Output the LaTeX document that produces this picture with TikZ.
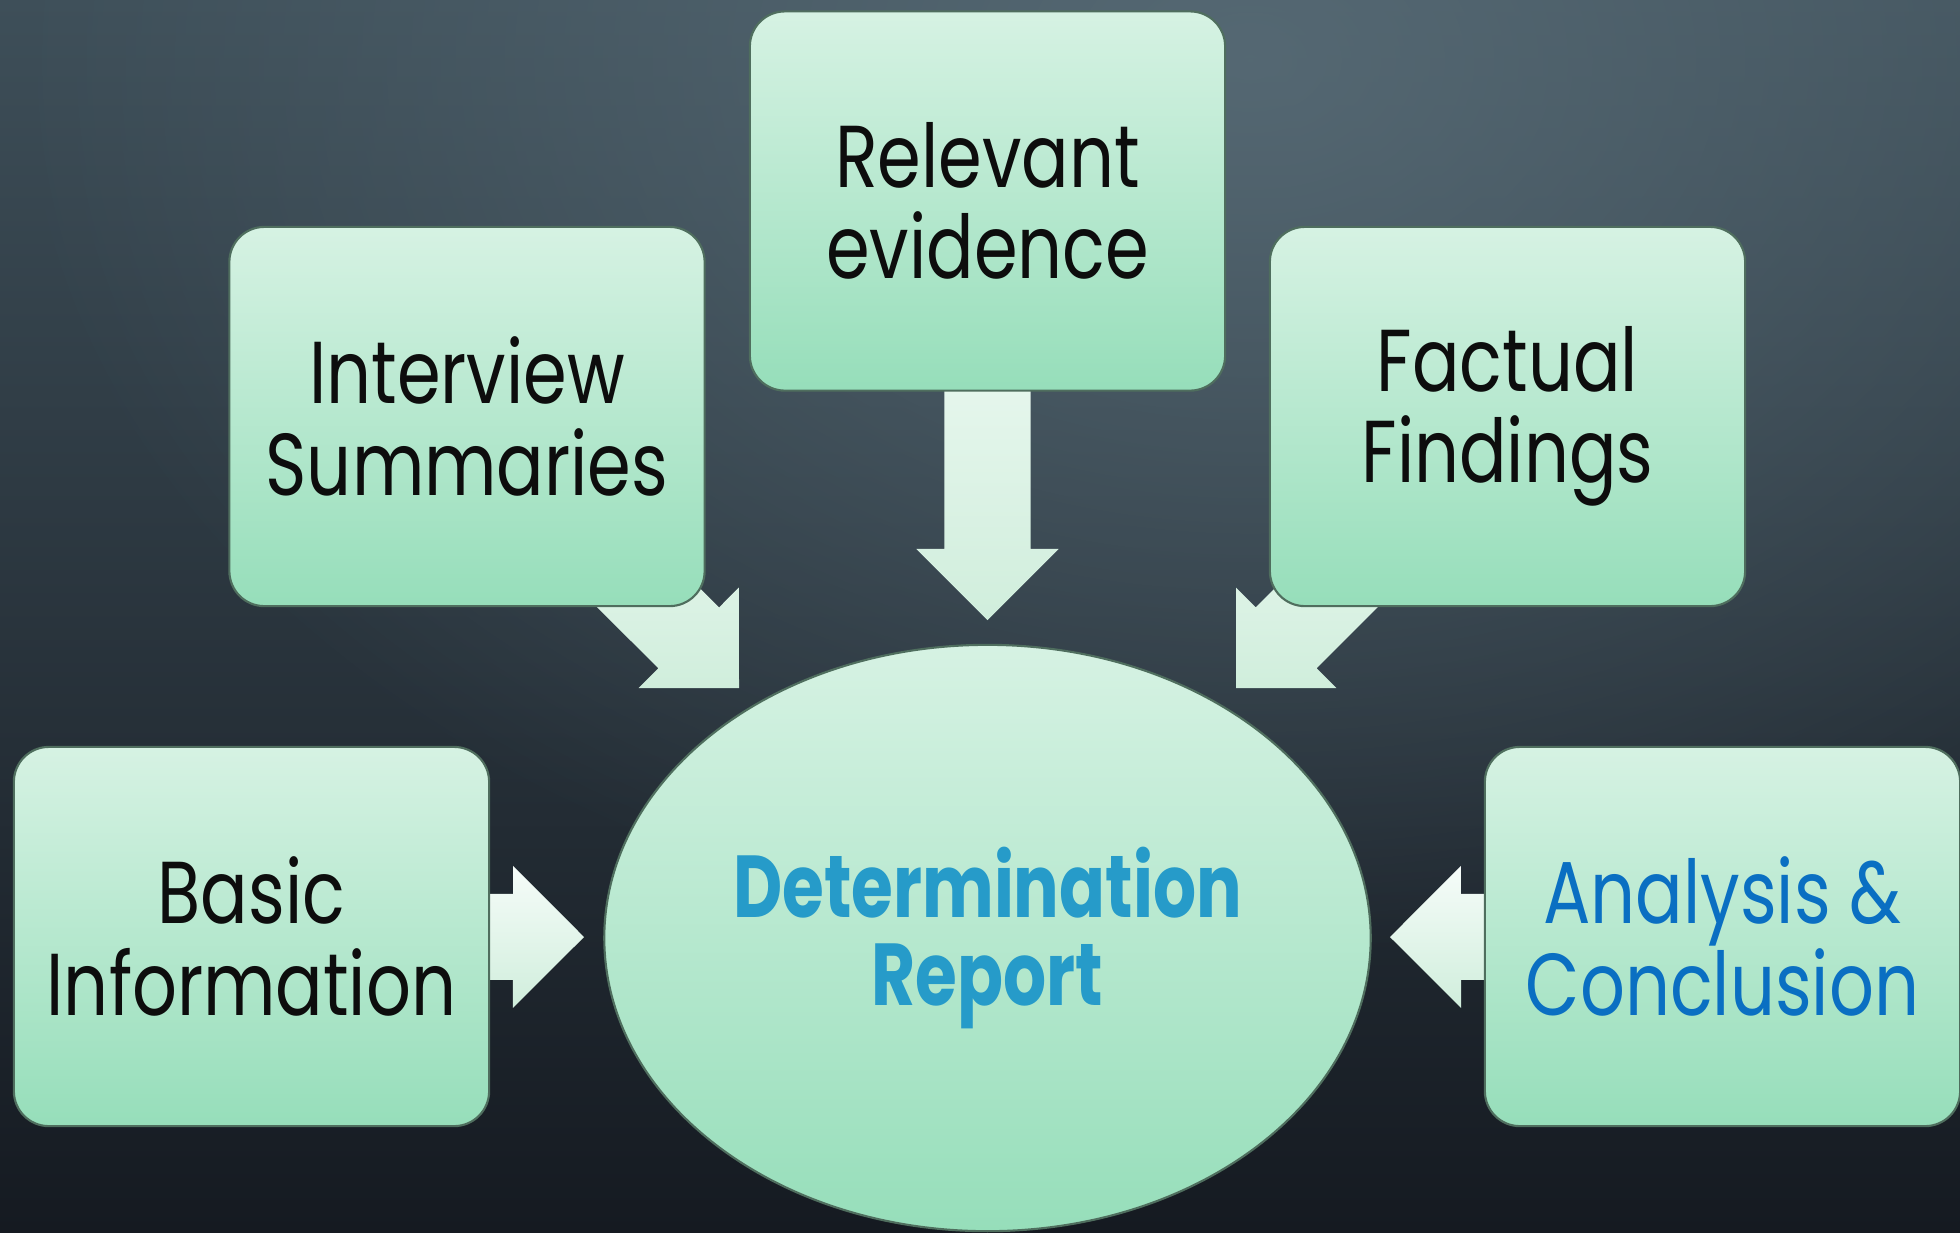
\documentclass[tikz,border=0pt]{standalone}
\usepackage{fontspec}
\setmainfont{Poppins}[FakeStretch=0.80]
\newfontfamily\reportfont{Poppins}[FakeStretch=0.77]
\usetikzlibrary{shapes.geometric, calc, fadings}
\definecolor{bgtop}{HTML}{3E4F59}
\definecolor{bgmid}{HTML}{2C3740}
\definecolor{bgbot}{HTML}{151A21}
\definecolor{bgglow}{HTML}{5B6F7A}
\definecolor{boxtop}{HTML}{D6F2E3}
\definecolor{boxbot}{HTML}{96DEBA}
\definecolor{boxline}{HTML}{4F6E5E}
\definecolor{arrtop}{HTML}{F6FCF9}
\definecolor{arrbot}{HTML}{D0EEDC}
\definecolor{reportblue}{HTML}{269BC9}
\definecolor{textblue}{HTML}{0A6FC2}
\tikzfading[name=glowfade, inner color=transparent!0, outer color=transparent!100]
\pgfdeclarelayer{back}
\pgfdeclarelayer{arrows}
\pgfsetlayers{back,arrows,main}
\newcommand{\blockarrow}[2]{%
  \coordinate (h) at ($(#2)!0.71cm!(#1)$);
  \shade[arrowshade] ($(#1)!0.43cm!90:(#2)$) -- ($(h)!0.43cm!90:(#2)$)
    -- ($(h)!0.71cm!90:(#2)$) -- (#2) -- ($(h)!0.71cm!-90:(#2)$)
    -- ($(h)!0.43cm!-90:(#2)$) -- ($(#1)!0.43cm!-90:(#2)$) -- cycle;
}
\begin{document}
\begin{tikzpicture}[x=0.01cm, y=-0.01cm,
    box/.style={draw=boxline, line width=.6pt, rounded corners=0.35cm,
      top color=boxtop, bottom color=boxbot, minimum width=4.75cm,
      minimum height=3.79cm, align=center, text=black!95,
      font=\fontsize{25}{26}\selectfont},
    report/.style={ellipse, draw=boxline, line width=.6pt, top color=boxtop,
      bottom color=boxbot, minimum width=7.66cm, minimum height=5.86cm,
      inner sep=0pt, align=center, text=reportblue,
      font=\fontsize{25}{25}\reportfont\bfseries},
    arrowshade/.style={top color=arrtop, bottom color=arrbot}]
\useasboundingbox (0,0) rectangle (1960,1232);
\begin{pgfonlayer}{back}
    \shade[top color=bgtop, middle color=bgmid, bottom color=bgbot](0,0) rectangle (1960,1232);
    \fill[bgglow, path fading=glowfade, fill opacity=.8](1250,60) ellipse [x radius=1250, y radius=900];
\end{pgfonlayer}

\node[box] (relevant) at (987.5,201) {Relevant\\evidence};
\node[box] (interview) at (467,416.5) {Interview\\Summaries};
\node[box] (factual) at (1507.5,416.5) {Factual\\Findings};
\node[box] (basic) at (251.5,936.5) {Basic\\Information};
\node[box, text=textblue] (analysis) at (1722.5,936.5) {Analysis \&\\Conclusion};
\node[report] (report) at (987.5,938) {Determination\\Report};

% arrow tips around the report
\coordinate (tipN) at (987.5,620);
\coordinate (tipNW) at (739,688);
\coordinate (tipNE) at (1236,688);
\coordinate (tipW) at (584,937);
\coordinate (tipE) at (1390,937);

\begin{pgfonlayer}{arrows}
\foreach \from/\tip in {relevant/tipN, interview/tipNW, factual/tipNE, basic/tipW, analysis/tipE}
{
    \blockarrow{\from.center}{\tip}
}
\end{pgfonlayer}
\end{tikzpicture}
\end{document}
